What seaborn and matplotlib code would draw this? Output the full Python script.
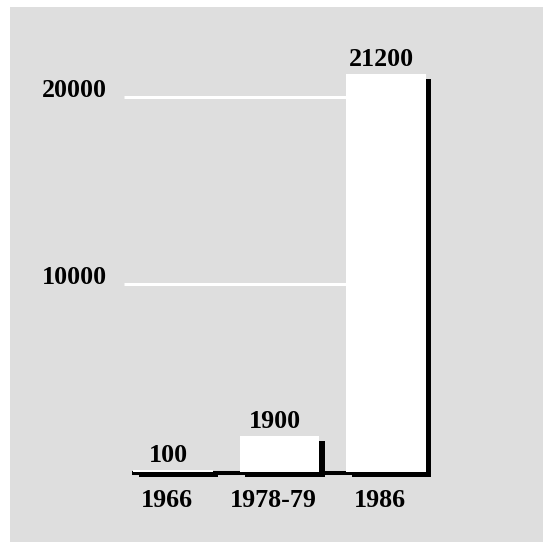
import matplotlib
matplotlib.use("Agg")
import matplotlib.pyplot as plt
import matplotlib.transforms as mtransforms
from matplotlib.patches import Rectangle
import seaborn as sns
import pandas as pd

# Data
periods = ["1966", "1978-79", "1986"]
counts = [100, 1900, 21200]
grid_values = [10000, 20000]
grid_labels = ["10000", "20000"]

df = pd.DataFrame({"period": periods, "count": counts})

sns.set_theme(style="white")
plt.rcParams["font.family"] = ["Liberation Serif", "DejaVu Serif"]
plt.rcParams["font.weight"] = "bold"

W, H, DPI = 543, 542, 100
fig = plt.figure(figsize=(W / DPI, H / DPI), dpi=DPI, facecolor="white")

# Grey panel behind the chart
panel_color = "#dedede"
fig.patches.append(Rectangle((10 / W, 0), 1, (H - 7) / H, transform=fig.transFigure,
                             facecolor=panel_color, edgecolor="none", zorder=-10))

ax_left_px, ax_right_px = 117, 460.55
zero_px, top_px = 472, 40.2
ax = fig.add_axes([ax_left_px / W, (H - zero_px) / H,
                   (ax_right_px - ax_left_px) / W, (zero_px - top_px) / H])
ax.set_facecolor("none")

FS = 18.7

# Drop shadows: black bars shifted right and down
sns.barplot(data=df, x="period", y="count", color="black", saturation=1,
            width=0.75, linewidth=0, ax=ax, zorder=2)
shadow = mtransforms.ScaledTranslation(5.5 / DPI, -5 / DPI, fig.dpi_scale_trans)
n_shadow = len(ax.patches)
for p in ax.patches:
    p.set_transform(ax.transData + shadow)
    p.set_clip_on(False)

# White bars on top
sns.barplot(data=df, x="period", y="count", color="white", saturation=1,
            width=0.75, linewidth=0, ax=ax, zorder=4)
for p in ax.patches[n_shadow:]:
    p.set_clip_on(False)

ax.set_xlim(-0.5258, 2.7)
ax.set_ylim(0, 23000)

# White gridlines running behind the bars
ax.hlines(grid_values, -0.46, 2.0, colors="white", linewidth=2.2, zorder=1)

# Black baseline, nudged slightly below zero
base_shift = mtransforms.ScaledTranslation(0, -1 / DPI, fig.dpi_scale_trans)
ax.hlines(0, -0.385, 2.42, colors="black", linewidth=2.9, zorder=3, clip_on=False,
          transform=ax.transData + base_shift)

# Value labels above bars
for i, v in enumerate(counts):
    ax.annotate(f"{v}", (i, v), xytext=(-5, 8), textcoords="offset pixels",
                ha="center", va="baseline", fontsize=FS, fontweight="bold",
                color="black", annotation_clip=False, zorder=6)

for s in ax.spines.values():
    s.set_visible(False)

ax.set_yticks(grid_values)
ax.set_yticklabels(grid_labels, fontsize=FS, fontweight="bold", color="black")
ax.tick_params(axis="y", length=0, pad=7)
for lab in ax.get_yticklabels():
    lab.set_va("baseline")

ax.set_xticks(range(len(periods)))
ax.set_xticklabels(periods, fontsize=FS, fontweight="bold", color="black")
ax.tick_params(axis="x", length=0, pad=12)
xshift = mtransforms.ScaledTranslation(-6 / DPI, 0, fig.dpi_scale_trans)
for lab in ax.get_xticklabels():
    lab.set_transform(lab.get_transform() + xshift)

ax.set_xlabel("")
ax.set_ylabel("")

fig.savefig("out.png", dpi=DPI, facecolor="white")
